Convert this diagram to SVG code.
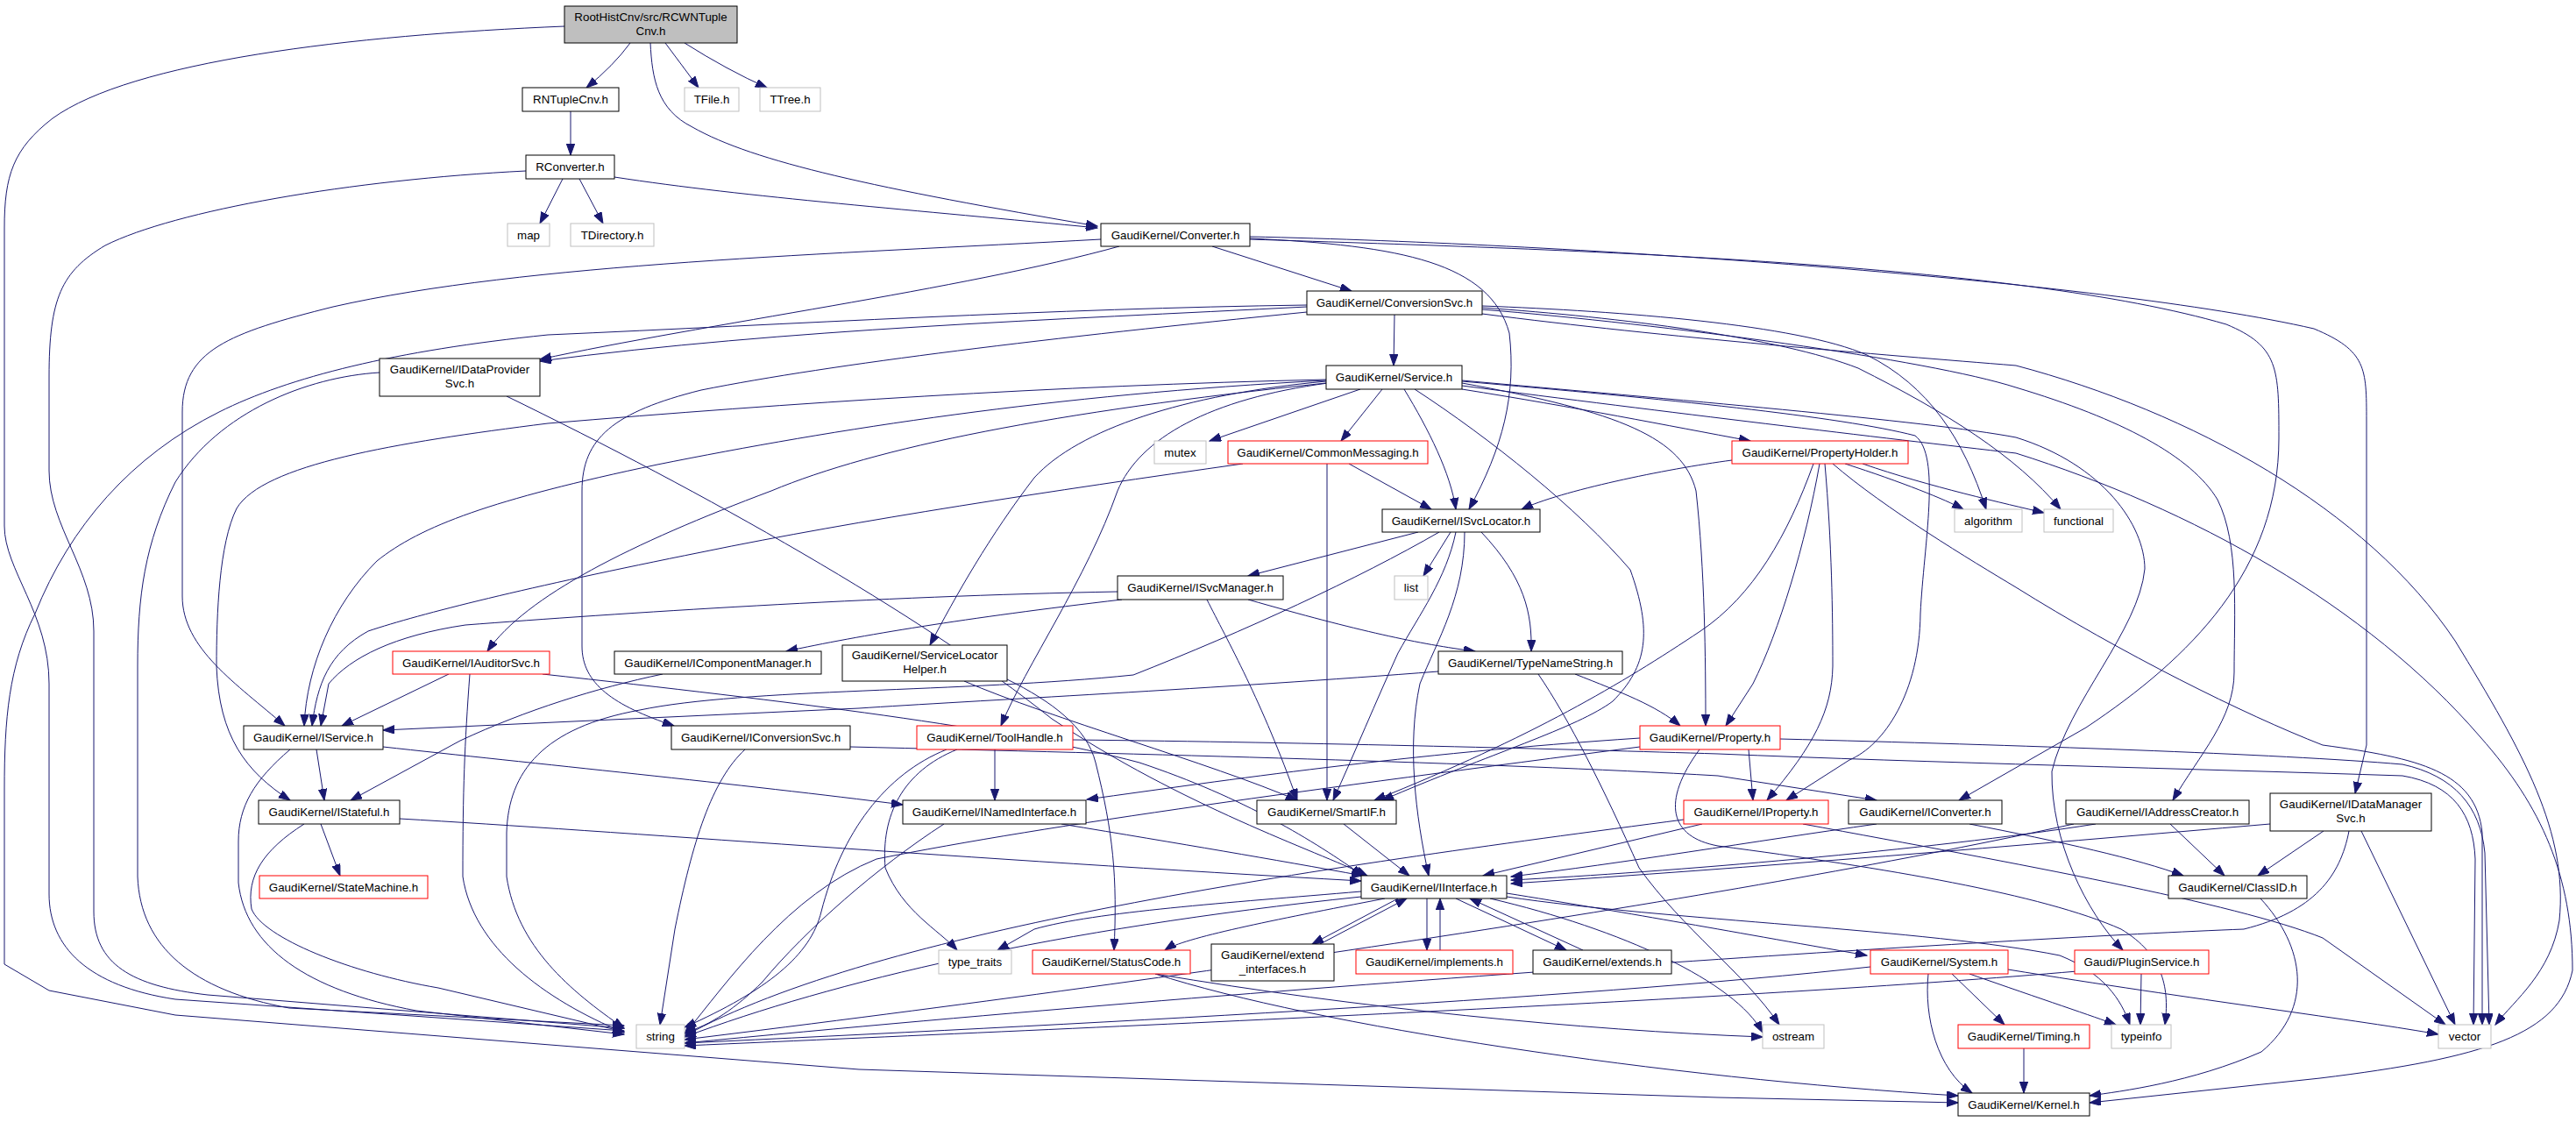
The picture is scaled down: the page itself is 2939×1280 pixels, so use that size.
<svg xmlns="http://www.w3.org/2000/svg" width="2939" height="1280" viewBox="0 0 2939 1280">
<style>
.n rect{fill:#fff;stroke:#000;stroke-width:1}
.r rect{stroke:#f00}
.g rect{stroke:#bfbfbf}
.root rect{fill:#bfbfbf}
text{font-family:"Liberation Sans",Arial,sans-serif;font-size:13.33px;fill:#000;text-anchor:middle}
#edges path{fill:none;stroke:#191970;stroke-width:1;marker-end:url(#a)}
</style>
<defs>
<marker id="a" markerWidth="14" markerHeight="10" refX="13" refY="4.7" orient="auto" markerUnits="userSpaceOnUse"><path d="M0,0 L13,4.7 L0,9.4 z" fill="#191970" stroke="#191970"/></marker>
</defs>
<rect width="2939" height="1280" fill="#fff"/>
<g id="edges">
<path d="M719,49 Q700,75 669,100"/>
<path d="M759,49 L797,100"/>
<path d="M781,49 Q830,80 875,100"/>
<path d="M742,49 C744,90 750,125 790,145 C860,185 1000,215 1252,258"/>
<path d="M644,30 C400,40 150,70 60,135 C15,170 5,200 5,260 L5,600 C5,650 56,700 56,780 L56,1020 C56,1080 100,1125 200,1140 L712,1176"/>
<path d="M651,127 L651,177"/>
<path d="M642,204 L616,255"/>
<path d="M661,204 L688,255"/>
<path d="M701,202 C850,225 1050,240 1252,260"/>
<path d="M600,195 C400,205 200,240 120,280 C70,310 56,340 56,430 L56,537 C56,600 107,650 107,720 L107,1040 C107,1100 150,1125 237,1135 L712,1173"/>
<path d="M1383,281 L1542,332"/>
<path d="M1277,281 C1100,330 800,370 616,410"/>
<path d="M1256,273 C950,290 600,300 380,350 C260,380 208,400 208,470 L208,680 C208,740 270,780 325,828"/>
<path d="M1426,272 C1600,280 1700,300 1722,380 C1730,450 1715,510 1676,581"/>
<path d="M1426,273 C1800,285 2300,300 2540,370 C2600,395 2600,420 2600,500 C2600,650 2500,750 2380,830 L2235,913"/>
<path d="M1426,270 C1800,278 2400,320 2640,375 C2700,400 2700,420 2700,480 L2700,850 L2687,905"/>
<path d="M1591,359 L1590,417"/>
<path d="M1491,350 C1200,365 900,375 616,412"/>
<path d="M1491,348 C1200,352 900,370 625,382 C450,400 330,430 250,470 C150,520 80,600 40,700 C10,760 5,820 5,900 L5,1100 L56,1130 L200,1158 L980,1220 L1960,1252 L2234,1258"/>
<path d="M1491,356 C1200,385 950,415 800,445 C700,470 664,500 664,560 L664,737 C664,780 700,805 769,828"/>
<path d="M1691,349 C1850,355 2050,370 2130,405 C2200,440 2240,500 2266,581"/>
<path d="M1691,351 C1850,362 2030,385 2120,420 C2220,470 2300,520 2351,581"/>
<path d="M1691,353 C1900,370 2200,410 2300,442 C2420,478 2500,520 2530,570 C2555,620 2549,700 2549,767 C2549,820 2510,860 2479,913"/>
<path d="M1691,358 C1900,385 2150,405 2300,417 C2500,470 2700,580 2801,731 C2880,860 2930,950 2920,1050 C2910,1110 2870,1140 2847,1169"/>
<path d="M1552,444 L1380,503"/>
<path d="M1577,444 L1530,503"/>
<path d="M1602,444 C1630,490 1655,540 1661,581"/>
<path d="M1668,444 C1800,465 1900,485 1997,503"/>
<path d="M1668,437 C1850,470 1920,500 1935,560 C1945,650 1946,750 1946,828"/>
<path d="M1668,435 C1900,455 2100,475 2185,497 C2215,520 2195,620 2191,700 C2190,790 2150,850 2110,867 L2038,913"/>
<path d="M1668,434 C1900,455 2200,480 2300,499 C2400,530 2447,600 2447,649 C2440,720 2360,800 2341,880 C2340,960 2380,1040 2422,1084"/>
<path d="M1668,440 C1900,470 2150,500 2300,517 C2500,580 2700,690 2830,841 C2900,920 2935,1000 2935,1107 C2920,1180 2835,1207 2647,1230 L2384,1258"/>
<path d="M1614,444 C1700,500 1800,580 1860,650 C1885,720 1880,760 1840,800 C1800,830 1700,860 1577,913"/>
<path d="M1513,435 C1350,450 1230,490 1180,545 C1130,610 1090,680 1061,736"/>
<path d="M1515,437 C1380,455 1300,500 1275,560 C1240,660 1170,760 1142,828"/>
<path d="M1513,437 C1200,470 1000,510 880,560 C720,620 600,680 556,743"/>
<path d="M1513,434 C1200,450 950,490 750,530 C560,570 480,600 430,640 C380,690 350,760 347,828"/>
<path d="M1513,433 C1200,440 900,460 625,483 C450,505 300,530 270,580 C250,620 247,700 247,760 C250,840 280,880 331,913"/>
<path d="M1539,529 L1633,581"/>
<path d="M1514,529 L1514,913"/>
<path d="M1418,529 C1200,560 980,593 800,630 C600,670 480,700 420,720 C375,745 362,780 356,828"/>
<path d="M1976,525 C1900,535 1780,560 1736,581"/>
<path d="M2105,529 C2170,550 2220,570 2240,581"/>
<path d="M2125,529 C2200,555 2290,575 2332,585"/>
<path d="M2076,529 C2060,620 2030,720 2000,780 L1969,828"/>
<path d="M2082,529 C2090,620 2091,700 2091,760 C2090,810 2070,850 2016,913"/>
<path d="M2091,529 C2150,580 2250,640 2300,670 C2420,745 2560,815 2650,850 C2760,865 2825,880 2832,950 L2832,1169"/>
<path d="M2069,529 C2040,610 2000,680 1940,720 C1850,780 1750,840 1568,913"/>
<path d="M1618,607 L1424,657"/>
<path d="M1655,607 L1624,657"/>
<path d="M1690,607 C1740,660 1748,700 1747,743"/>
<path d="M1661,607 C1650,660 1620,700 1595,745 C1570,800 1545,860 1521,913"/>
<path d="M1671,607 C1671,680 1640,730 1620,780 C1605,850 1615,930 1630,999"/>
<path d="M1642,607 C1550,660 1420,720 1293,770 C1100,790 850,785 730,810 C620,830 580,880 578,950 L578,1000 C590,1080 650,1130 712,1173"/>
<path d="M1275,675 C1000,680 700,700 531,713 C450,725 400,750 375,780 L366,828"/>
<path d="M1280,684 C1100,705 980,725 897,743"/>
<path d="M1424,684 C1550,720 1620,735 1683,743"/>
<path d="M1377,684 C1400,730 1440,800 1480,913"/>
<path d="M1641,766 C1400,785 1100,800 980,808 L437,833"/>
<path d="M1797,769 C1850,790 1890,805 1917,828"/>
<path d="M1755,769 C1790,820 1830,900 1870,990 C1920,1060 1990,1110 2030,1169"/>
<path d="M512,769 L390,828"/>
<path d="M536,769 C530,850 528,900 528,1000 C540,1080 620,1140 712,1178"/>
<path d="M619,769 C900,800 1150,830 1300,870 C1420,910 1500,960 1555,999"/>
<path d="M756,769 C680,785 600,810 525,845 L400,913"/>
<path d="M1149,775 C1200,800 1240,830 1250,870 C1270,950 1275,1000 1271,1084"/>
<path d="M1100,777 C1200,820 1380,870 1480,913"/>
<path d="M361,855 L370,913"/>
<path d="M437,852 C600,870 850,895 1030,918"/>
<path d="M331,855 C290,890 272,920 272,960 L272,1007 C280,1080 350,1130 475,1153 L712,1180"/>
<path d="M970,852 C1300,860 1700,870 1960,885 L2141,913"/>
<path d="M850,855 C812,890 790,960 770,1060 L753,1169"/>
<path d="M1135,855 L1135,913"/>
<path d="M1092,855 C1030,880 1005,930 1010,990 C1030,1040 1070,1060 1092,1084"/>
<path d="M1080,855 C1010,883 960,950 937,1040 C925,1090 875,1130 781,1172"/>
<path d="M1224,844 C1500,847 1800,855 1960,860 C2200,870 2500,877 2741,885 C2800,895 2822,930 2824,980 L2822,1169"/>
<path d="M1995,855 L2000,913"/>
<path d="M2031,843 C2300,850 2600,860 2741,872 C2800,885 2830,920 2835,973 L2840,1169"/>
<path d="M1871,842 C1600,860 1400,890 1240,912"/>
<path d="M1871,852 C1500,900 1200,940 1000,980 C900,1020 830,1120 781,1180"/>
<path d="M1939,855 C1895,915 1905,955 1960,965 C2150,990 2330,1020 2420,1060 C2470,1090 2475,1130 2470,1169"/>
<path d="M1942,940 L1692,999"/>
<path d="M1921,935 C1500,990 1000,1060 781,1182"/>
<path d="M2057,940 C2300,985 2550,1030 2650,1070 L2790,1169"/>
<path d="M2141,940 C2000,960 1850,985 1724,1000"/>
<path d="M2247,940 C2350,960 2440,980 2491,999"/>
<path d="M2391,940 C2200,970 1900,995 1724,1004"/>
<path d="M2476,940 L2538,999"/>
<path d="M2366,940 C2000,1020 1400,1110 781,1186"/>
<path d="M2590,940 C2300,965 2000,990 1724,1008"/>
<path d="M2651,948 L2576,999"/>
<path d="M2694,948 L2801,1169"/>
<path d="M2680,948 C2670,1000 2640,1040 2560,1060 C2300,1070 1500,1120 781,1190"/>
<path d="M456,934 C700,948 1100,980 1553,1005"/>
<path d="M366,940 L388,999"/>
<path d="M347,940 C300,970 281,1000 287,1037 C300,1070 400,1110 500,1127 L712,1177"/>
<path d="M1211,940 C1350,963 1450,980 1555,999"/>
<path d="M1077,940 C1000,990 920,1060 870,1120 C840,1150 810,1170 781,1178"/>
<path d="M1533,940 L1608,999"/>
<path d="M1553,1017 C1400,1030 1250,1040 1180,1060 L1138,1084"/>
<path d="M1580,1025 C1450,1050 1350,1070 1329,1084"/>
<path d="M1595,1025 L1497,1077"/>
<path d="M1506,1077 L1605,1025"/>
<path d="M1628,1025 L1628,1084"/>
<path d="M1643,1084 L1643,1025"/>
<path d="M1661,1025 L1787,1084"/>
<path d="M1806,1084 L1677,1025"/>
<path d="M1719,1019 C1850,1040 1960,1060 2130,1090"/>
<path d="M1700,1025 C1850,1060 1980,1120 2011,1178"/>
<path d="M1719,1023 C1900,1050 2200,1060 2350,1090 C2400,1110 2420,1140 2430,1169"/>
<path d="M1553,1023 C1200,1060 950,1120 781,1183"/>
<path d="M1318,1111 C1500,1170 1900,1230 2234,1250"/>
<path d="M1318,1111 C1550,1150 1800,1175 2011,1183"/>
<path d="M2134,1103 C1800,1140 1200,1170 781,1190"/>
<path d="M2200,1111 C2195,1160 2210,1220 2250,1247"/>
<path d="M2227,1111 L2287,1169"/>
<path d="M2247,1111 C2330,1140 2390,1160 2414,1169"/>
<path d="M2291,1106 C2500,1140 2700,1165 2782,1180"/>
<path d="M2443,1111 L2442,1169"/>
<path d="M2370,1108 C2000,1140 1300,1170 781,1193"/>
<path d="M2309,1196 L2309,1247"/>
<path d="M2579,1025 C2630,1080 2640,1150 2580,1200 C2500,1235 2420,1245 2384,1250"/>
<path d="M433,425 C350,430 250,470 200,550 C165,620 157,680 157,760 L157,1000 C160,1080 220,1130 330,1150 L712,1170"/>
<path d="M578,452 C800,560 1050,700 1200,820 C1350,920 1500,970 1560,999"/>
</g>
<g id="n_root" class="n root"><rect x="644" y="7" width="197" height="42"/><text x="742.5" y="24">RootHistCnv/src/RCWNTuple</text><text x="742.5" y="40">Cnv.h</text></g>
<g id="n_rntuplecnv" class="n"><rect x="596" y="100" width="110" height="27"/><text x="651" y="118">RNTupleCnv.h</text></g>
<g id="n_tfile" class="n g"><rect x="781" y="100" width="62" height="27"/><text x="812" y="118">TFile.h</text></g>
<g id="n_ttree" class="n g"><rect x="867" y="100" width="69" height="27"/><text x="901.5" y="118">TTree.h</text></g>
<g id="n_rconverter" class="n"><rect x="600" y="177" width="101" height="27"/><text x="650.5" y="195">RConverter.h</text></g>
<g id="n_map" class="n g"><rect x="579" y="255" width="48" height="26"/><text x="603" y="273">map</text></g>
<g id="n_tdirectory" class="n g"><rect x="651" y="255" width="95" height="26"/><text x="698.5" y="273">TDirectory.h</text></g>
<g id="n_converter" class="n"><rect x="1256" y="255" width="170" height="26"/><text x="1341" y="273">GaudiKernel/Converter.h</text></g>
<g id="n_conversionsvc" class="n"><rect x="1491" y="332" width="200" height="27"/><text x="1591" y="350">GaudiKernel/ConversionSvc.h</text></g>
<g id="n_idataprovidersvc" class="n"><rect x="433" y="409" width="183" height="43"/><text x="524.5" y="426">GaudiKernel/IDataProvider</text><text x="524.5" y="442">Svc.h</text></g>
<g id="n_service" class="n"><rect x="1513" y="417" width="155" height="27"/><text x="1590.5" y="435">GaudiKernel/Service.h</text></g>
<g id="n_mutex" class="n g"><rect x="1317" y="503" width="59" height="26"/><text x="1346.5" y="521">mutex</text></g>
<g id="n_commonmessaging" class="n r"><rect x="1401" y="503" width="228" height="26"/><text x="1515" y="521">GaudiKernel/CommonMessaging.h</text></g>
<g id="n_propertyholder" class="n r"><rect x="1976" y="503" width="201" height="26"/><text x="2076.5" y="521">GaudiKernel/PropertyHolder.h</text></g>
<g id="n_isvclocator" class="n"><rect x="1577" y="581" width="180" height="26"/><text x="1667" y="599">GaudiKernel/ISvcLocator.h</text></g>
<g id="n_algorithm" class="n g"><rect x="2230" y="581" width="77" height="26"/><text x="2268.5" y="599">algorithm</text></g>
<g id="n_functional" class="n g"><rect x="2332" y="581" width="79" height="26"/><text x="2371.5" y="599">functional</text></g>
<g id="n_isvcmanager" class="n"><rect x="1275" y="657" width="189" height="27"/><text x="1369.5" y="675">GaudiKernel/ISvcManager.h</text></g>
<g id="n_list" class="n g"><rect x="1591" y="657" width="38" height="27"/><text x="1610" y="675">list</text></g>
<g id="n_iauditorsvc" class="n r"><rect x="448" y="743" width="179" height="26"/><text x="537.5" y="761">GaudiKernel/IAuditorSvc.h</text></g>
<g id="n_icomponentmanager" class="n"><rect x="701" y="743" width="236" height="26"/><text x="819" y="761">GaudiKernel/IComponentManager.h</text></g>
<g id="n_servicelocatorhelper" class="n"><rect x="961" y="736" width="188" height="41"/><text x="1055" y="752">GaudiKernel/ServiceLocator</text><text x="1055" y="768">Helper.h</text></g>
<g id="n_typenamestring" class="n"><rect x="1641" y="743" width="210" height="26"/><text x="1746" y="761">GaudiKernel/TypeNameString.h</text></g>
<g id="n_iservice" class="n"><rect x="278" y="828" width="159" height="27"/><text x="357.5" y="846">GaudiKernel/IService.h</text></g>
<g id="n_iconversionsvc" class="n"><rect x="766" y="828" width="204" height="27"/><text x="868" y="846">GaudiKernel/IConversionSvc.h</text></g>
<g id="n_toolhandle" class="n r"><rect x="1046" y="828" width="178" height="27"/><text x="1135" y="846">GaudiKernel/ToolHandle.h</text></g>
<g id="n_property" class="n r"><rect x="1871" y="828" width="160" height="27"/><text x="1951" y="846">GaudiKernel/Property.h</text></g>
<g id="n_istateful" class="n"><rect x="295" y="913" width="161" height="27"/><text x="375.5" y="931">GaudiKernel/IStateful.h</text></g>
<g id="n_inamedinterface" class="n"><rect x="1030" y="913" width="209" height="27"/><text x="1134.5" y="931">GaudiKernel/INamedInterface.h</text></g>
<g id="n_smartif" class="n"><rect x="1434" y="913" width="159" height="27"/><text x="1513.5" y="931">GaudiKernel/SmartIF.h</text></g>
<g id="n_iproperty" class="n r"><rect x="1921" y="913" width="165" height="27"/><text x="2003.5" y="931">GaudiKernel/IProperty.h</text></g>
<g id="n_iconverter" class="n"><rect x="2109" y="913" width="175" height="27"/><text x="2196.5" y="931">GaudiKernel/IConverter.h</text></g>
<g id="n_iaddresscreator" class="n"><rect x="2357" y="913" width="209" height="27"/><text x="2461.5" y="931">GaudiKernel/IAddressCreator.h</text></g>
<g id="n_idatamanagersvc" class="n"><rect x="2590" y="905" width="184" height="43"/><text x="2682" y="922">GaudiKernel/IDataManager</text><text x="2682" y="938">Svc.h</text></g>
<g id="n_statemachine" class="n r"><rect x="296" y="999" width="192" height="26"/><text x="392" y="1017">GaudiKernel/StateMachine.h</text></g>
<g id="n_iinterface" class="n"><rect x="1553" y="999" width="166" height="26"/><text x="1636" y="1017">GaudiKernel/IInterface.h</text></g>
<g id="n_classid" class="n"><rect x="2474" y="999" width="158" height="26"/><text x="2553" y="1017">GaudiKernel/ClassID.h</text></g>
<g id="n_type_traits" class="n g"><rect x="1071" y="1084" width="83" height="27"/><text x="1112.5" y="1102">type_traits</text></g>
<g id="n_statuscode" class="n r"><rect x="1178" y="1084" width="180" height="27"/><text x="1268" y="1102">GaudiKernel/StatusCode.h</text></g>
<g id="n_extend_interfaces" class="n"><rect x="1382" y="1077" width="140" height="42"/><text x="1452" y="1094">GaudiKernel/extend</text><text x="1452" y="1110">_interfaces.h</text></g>
<g id="n_implements" class="n r"><rect x="1547" y="1084" width="179" height="27"/><text x="1636.5" y="1102">GaudiKernel/implements.h</text></g>
<g id="n_extends" class="n"><rect x="1749" y="1084" width="158" height="27"/><text x="1828" y="1102">GaudiKernel/extends.h</text></g>
<g id="n_system" class="n r"><rect x="2134" y="1084" width="157" height="27"/><text x="2212.5" y="1102">GaudiKernel/System.h</text></g>
<g id="n_pluginservice" class="n r"><rect x="2367" y="1084" width="153" height="27"/><text x="2443.5" y="1102">Gaudi/PluginService.h</text></g>
<g id="n_string" class="n g"><rect x="726" y="1169" width="55" height="27"/><text x="753.5" y="1187">string</text></g>
<g id="n_ostream" class="n g"><rect x="2011" y="1169" width="70" height="27"/><text x="2046" y="1187">ostream</text></g>
<g id="n_timing" class="n r"><rect x="2234" y="1169" width="150" height="27"/><text x="2309" y="1187">GaudiKernel/Timing.h</text></g>
<g id="n_typeinfo" class="n g"><rect x="2409" y="1169" width="68" height="27"/><text x="2443" y="1187">typeinfo</text></g>
<g id="n_vector" class="n g"><rect x="2782" y="1169" width="60" height="27"/><text x="2812" y="1187">vector</text></g>
<g id="n_kernel" class="n"><rect x="2234" y="1247" width="150" height="26"/><text x="2309" y="1265">GaudiKernel/Kernel.h</text></g>
</svg>
